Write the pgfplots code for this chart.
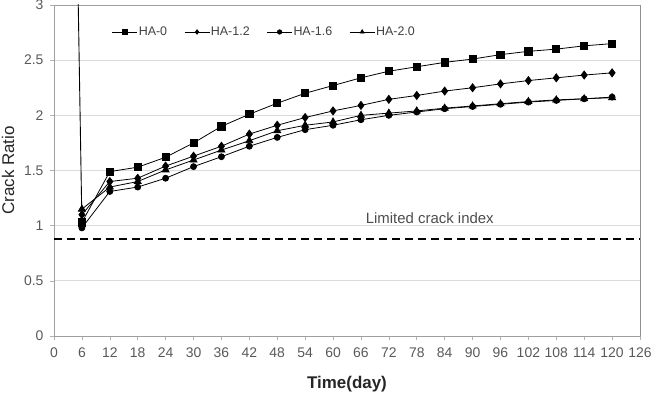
\documentclass[border=0pt]{standalone}
\usepackage{pgfplots}
\pgfplotsset{compat=1.18}
\usepackage{fontspec}
\setmainfont{Liberation Sans}
\begin{document}
\begin{tikzpicture}
\begin{axis}[
  scale only axis, width=586bp, height=331bp,
  xmin=0, xmax=126, ymin=0, ymax=3,
  xtick={0,6,...,126}, ytick={0,0.5,1,1.5,2,2.5,3},
  yticklabels={0,0.5,1,1.5,2,2.5,3},
  ymajorgrids, grid style={gray!28, line width=0.7pt},
  axis line style={gray!75, line width=0.9pt},
  tick style={gray!60, line width=0.6pt}, tick align=outside, major tick length=4bp,
  xtick pos=bottom, ytick pos=left,
  /pgf/number format/assume math mode=true,
  ticklabel style={font=\fontsize{14}{14}\selectfont, text=black!65},
  xticklabel style={yshift=-4bp},
  yticklabel style={xshift=-3bp},
  xlabel={Time(day)}, ylabel={Crack Ratio},
  xlabel style={font=\fontsize{17}{18}\selectfont\bfseries, text=black!85,
    at={(axis description cs:0.5,-0.1465)}, anchor=center},
  ylabel style={font=\fontsize{17}{17}\selectfont, text=black!85,
    at={(axis description cs:-0.0785,0.5)}, anchor=center},
  legend style={at={(0.0935,0.9185)}, anchor=west, draw=none, fill=none,
    font=\fontsize{12.5}{13}\selectfont, text=black!75, legend columns=4,
    nodes={inner sep=1bp},
    /tikz/every even column/.append style={column sep=16bp}},
  legend image code/.code={\draw[mark repeat=2, mark phase=2, mark size=2.2bp]
     plot coordinates {(0bp,0bp)(12.5bp,0bp)(25bp,0bp)};},
  every axis plot/.append style={black, line width=0.8pt},
]
\addplot[mark=square*, mark size=3.6bp] coordinates {
(6,1.03) (12,1.49) (18,1.53) (24,1.62) (30,1.75) (36,1.90) (42,2.01) (48,2.11) (54,2.20) (60,2.27) (66,2.34) (72,2.40) (78,2.44) (84,2.48) (90,2.51) (96,2.55) (102,2.58) (108,2.60) (114,2.63) (120,2.65)};
\addlegendentry{HA-0}
\addplot[mark=diamond*, mark size=4bp] coordinates {
(6,1.10) (12,1.40) (18,1.43) (24,1.54) (30,1.63) (36,1.72) (42,1.83) (48,1.91) (54,1.98) (60,2.04) (66,2.09) (72,2.145) (78,2.18) (84,2.22) (90,2.25) (96,2.285) (102,2.315) (108,2.34) (114,2.365) (120,2.385)};
\addlegendentry{HA-1.2}
\addplot[mark=*, mark size=3bp] coordinates {
(6,0.98) (12,1.31) (18,1.35) (24,1.43) (30,1.535) (36,1.625) (42,1.72) (48,1.80) (54,1.87) (60,1.91) (66,1.96) (72,2.00) (78,2.03) (84,2.06) (90,2.08) (96,2.10) (102,2.12) (108,2.135) (114,2.15) (120,2.165)};
\addlegendentry{HA-1.6}
\addplot[mark=triangle*, mark size=4bp] coordinates {
(6,1.15) (12,1.35) (18,1.40) (24,1.505) (30,1.595) (36,1.685) (42,1.77) (48,1.86) (54,1.91) (60,1.94) (66,2.00) (72,2.02) (78,2.04) (84,2.065) (90,2.085) (96,2.105) (102,2.125) (108,2.14) (114,2.15) (120,2.16)};
\addlegendentry{HA-2.0}
\addplot[black, line width=0.9pt, forget plot] coordinates {(4.5,4.8) (6,1.03)};
\addplot[black, line width=1.6pt, dash pattern=on 8bp off 5bp, forget plot] coordinates {(0,0.88) (126,0.88)};
\node[font=\fontsize{15}{15}\selectfont, text=black!70] at (axis cs:80.8,1.07) {Limited crack index};
\draw[black!85, line width=0.9pt] (rel axis cs:1,0) -- (rel axis cs:1,1);
\end{axis}
\pgfresetboundingbox
\path[use as bounding box] ([shift={(-54bp,-59bp)}]current axis.south west) rectangle ([shift={(15bp,5bp)}]current axis.north east);
\end{tikzpicture}
\end{document}
